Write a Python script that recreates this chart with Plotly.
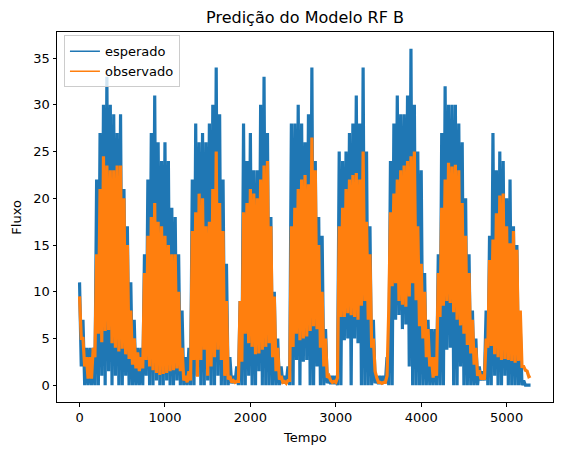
import plotly.graph_objects as go

# Time grid spacing for the sampled envelope values (time units)
STEP = 40

# "esperado" (blue): upper values read at t = 0, 40, 80, ... 5280
esperado_hi = [
    11, 7, 4, 4, 4, 22, 27, 30, 33, 30,          # 0 - 360
    29, 27, 29, 21, 17, 11, 7, 4, 4, 14,         # 400 - 760
    22, 27, 31, 26, 24, 26, 24, 19, 18, 14,      # 800 - 1160
    8, 3, 4, 22, 28, 26, 27, 26, 28, 30,         # 1200 - 1560
    34, 29, 22, 13, 3, 1, 2, 9, 28, 24,          # 1600 - 1960
    27, 23, 23, 30, 33, 27, 18, 10, 5, 2,        # 2000 - 2360
    1, 2, 28, 28, 30, 28, 26, 29, 34, 24,        # 2400 - 2760
    18, 16, 6, 1, 1, 1, 25, 24, 25, 27,          # 2800 - 3160
    28, 31, 28, 34, 25, 17, 7, 1, 1, 1,          # 3200 - 3560
    3, 24, 28, 31, 29, 29, 31, 36, 30, 25,       # 3600 - 3960
    23, 12, 7, 6, 6, 14, 27, 32, 30, 30,         # 4000 - 4360
    30, 28, 26, 20, 14, 8, 5, 2, 1.5, 8,         # 4400 - 4760
    16, 27, 23, 25, 24, 20, 22, 17, 15, 6,       # 4800 - 5160
    0.5, 0, 0,                                   # 5200 - 5280
]
# "esperado" (blue): lower values read at t = 20, 60, 100, ... 5260
esperado_lo = [
    2, 0, 0, 0, 0, 0, 1, 0, 1.5, 0,              # 20 - 380
    1, 0, 0, 1, 0, 0, 0, 0, 0, 1,                # 420 - 780
    0, 0, 0.5, 0, 0, 0.5, 0, 0, 0.5, 0,          # 820 - 1180
    0, 0, 0, 0, 1, 0, 0, 0.5, 0, 0,              # 1220 - 1580
    1, 0, 0, 0, 0.2, 0.2, 0, 0, 0, 1,            # 1620 - 1980
    0, 0, 1.5, 0, 0, 0, 0, 0, 0, 0.2,            # 2020 - 2380
    0.2, 0, 0, 2.7, 0, 2.5, 2.7, 0, 0, 2,        # 2420 - 2780
    0, 0, 0.2, 0.1, 0.1, 0, 0, 4.8, 5, 0,        # 2820 - 3180
    5, 4.5, 0, 0, 0, 0, 0.2, 0.1, 0.1, 0.2,      # 3220 - 3580
    0, 0, 7, 7.5, 6, 6.5, 2, 0, 0, 0,            # 3620 - 3980
    0, 0, 0, 0, 0, 0, 0, 3.8, 4, 0,              # 4020 - 4380
    0, 2, 0, 0, 0, 0, 0, 0.5, 0.5, 0,            # 4420 - 4780
    0, 1, 0, 0, 1, 0, 0, 0, 0, 0,                # 4820 - 5180
    0, 0,                                        # 5220 - 5260
]

# "observado" (orange): upper values read at t = 0, 40, 80, ... 5280
observado_hi = [
    9.5, 5, 3, 3, 4, 14, 21, 24.5, 23.5, 23,
    23, 23.5, 23.5, 20, 15, 8, 5, 3.5, 3, 12,
    16, 18, 19.5, 17.5, 17, 16, 15, 14, 14, 10,
    4, 1, 1.5, 16.5, 18.5, 20.5, 20, 17, 17.5, 21,
    25, 19.5, 16.5, 9, 1, 0.5, 0.4, 9, 18.5, 19.5,
    21, 20.5, 20, 22, 23.5, 24, 17, 9.5, 4, 1,
    0.4, 0.5, 17, 19, 21, 22, 22.5, 21.5, 26.5, 23,
    15, 10, 5, 1, 0.3, 0.3, 17, 19, 21, 22,
    22.5, 22.7, 22, 25, 17.5, 14, 5, 0.8, 0.3, 0.3,
    1, 18.5, 20.5, 22, 23, 23.5, 24, 24.5, 25, 17,
    13, 10, 6, 3, 3, 12, 19, 22, 23.8, 23.4,
    23.6, 23, 19.5, 16, 12, 7, 4, 1.6, 1.1, 5,
    13.4, 15.6, 18.4, 20.3, 20.5, 17, 15.2, 16.5, 14.5, 8,
    2, 1.5, 1,
]
# "observado" (orange): lower values read at t = 20, 60, 100, ... 5260
observado_lo = [
    5, 2, 0.7, 0.7, 3, 5.5, 4.6, 5.8, 5.9, 4.5,  # 20 - 380
    4, 3.6, 3.9, 3.3, 2.8, 2.2, 1.8, 1.5, 1.8, 2.7,  # 420 - 780
    2, 1.6, 1.3, 1.1, 1.2, 1.3, 1.5, 1.6, 1.8, 1.5,  # 820 - 1180
    0.5, 0.3, 0.5, 2.7, 0.9, 2.7, 3.8, 1, 2, 3,      # 1220 - 1580
    3.8, 2.7, 1, 0.6, 0.3, 0.3, 0.4, 2.5, 5.5, 4.5,  # 1620 - 1980
    4.1, 3.3, 3.4, 3.8, 4.1, 4.5, 3, 1.5, 0.6, 0.3,  # 2020 - 2380
    0.2, 0.5, 4.1, 5.5, 4.8, 5, 5.2, 5.8, 6.3, 6,    # 2420 - 2780
    4, 2, 0.8, 0.5, 0.4, 0.8, 7.3, 7.3, 7.7, 7.5,    # 2820 - 3180
    7.3, 7, 8.5, 9, 7, 4, 1.5, 0.3, 0.2, 0.3,        # 3220 - 3580
    8, 10.6, 10.9, 9, 8.6, 8.4, 9.5, 10.9, 9.1, 6.3,  # 3620 - 3980
    5, 3, 2, 0.8, 1, 7.3, 8.5, 9, 8.8, 7.8,          # 4020 - 4380
    7, 6.4, 5.5, 4.3, 3.4, 2.2, 1, 0.6, 0.6, 4,      # 4420 - 4780
    4.2, 3.3, 3, 2.7, 2.8, 2.7, 2.6, 2.4, 2.6, 2,    # 4820 - 5180
    1.6, 0.9,                                        # 5220 - 5260
]

x_ticks = [0, 1000, 2000, 3000, 4000, 5000]
y_ticks = [0, 5, 10, 15, 20, 25, 30, 35]

BLUE = "#1f77b4"
ORANGE = "#ff7f0e"


def series(hi, lo):
    """Merge the upper and lower readings into one time-ordered series."""
    xs, ys = [], []
    for i, h in enumerate(hi):
        xs.append(i * STEP)
        ys.append(h)
        if i < len(lo):
            xs.append(i * STEP + STEP // 2)
            ys.append(lo[i])
    return xs, ys


bx, by = series(esperado_hi, esperado_lo)
ox, oy = series(observado_hi, observado_lo)

FONT = "DejaVu Sans"
fig = go.Figure()
# data traces (dense oscillation drawn with a stroke wide enough to fill)
fig.add_trace(go.Scatter(x=bx, y=by, mode="lines", name="esperado",
                         showlegend=False,
                         line=dict(color=BLUE, width=3.2, simplify=False)))
fig.add_trace(go.Scatter(x=ox, y=oy, mode="lines", name="observado",
                         showlegend=False,
                         line=dict(color=ORANGE, width=3.2, simplify=False)))
# legend entries with the thin matplotlib-style line
fig.add_trace(go.Scatter(x=[None], y=[None], mode="lines", name="esperado",
                         line=dict(color=BLUE, width=1.5)))
fig.add_trace(go.Scatter(x=[None], y=[None], mode="lines", name="observado",
                         line=dict(color=ORANGE, width=1.5)))

axis_common = dict(showline=True, linecolor="black", linewidth=1, mirror=True,
                   ticks="outside", ticklen=3.5, tickwidth=1, tickcolor="black",
                   showgrid=False, zeroline=False,
                   tickfont=dict(family=FONT, size=13, color="black"))

fig.update_layout(
    width=562, height=455,
    margin=dict(l=57, r=9, t=32, b=53),
    paper_bgcolor="white", plot_bgcolor="white",
    font=dict(family=FONT, size=13, color="black"),
    title=dict(text="Predição do Modelo RF B", x=0.5, xref="paper",
               y=1 - 17.5 / 455, yref="container", yanchor="middle",
               font=dict(family=FONT, size=16, color="black")),
    xaxis=dict(range=[-264, 5543], tickvals=x_ticks, **axis_common),
    yaxis=dict(range=[-1.8, 37.8], tickvals=y_ticks, **axis_common),
    legend=dict(x=0.014, y=0.991, xanchor="left", yanchor="top",
                traceorder="normal",
                bgcolor="rgba(255,255,255,0.8)", bordercolor="#cccccc",
                borderwidth=1, font=dict(family=FONT, size=13, color="black"),
                itemwidth=30),
    showlegend=True,
    annotations=[
        dict(text="Tempo", xref="paper", yref="paper", x=0.5, y=-35.5 / 369.4,
             xanchor="center", yanchor="middle", showarrow=False,
             font=dict(family=FONT, size=13, color="black")),
        dict(text="Fluxo", xref="paper", yref="paper", x=-41.3 / 496, y=0.5,
             xanchor="center", yanchor="middle", textangle=-90, showarrow=False,
             font=dict(family=FONT, size=13, color="black")),
    ],
)

fig.write_html("out.html", config={"displayModeBar": False},
               post_script="document.body.style.margin='0';")
